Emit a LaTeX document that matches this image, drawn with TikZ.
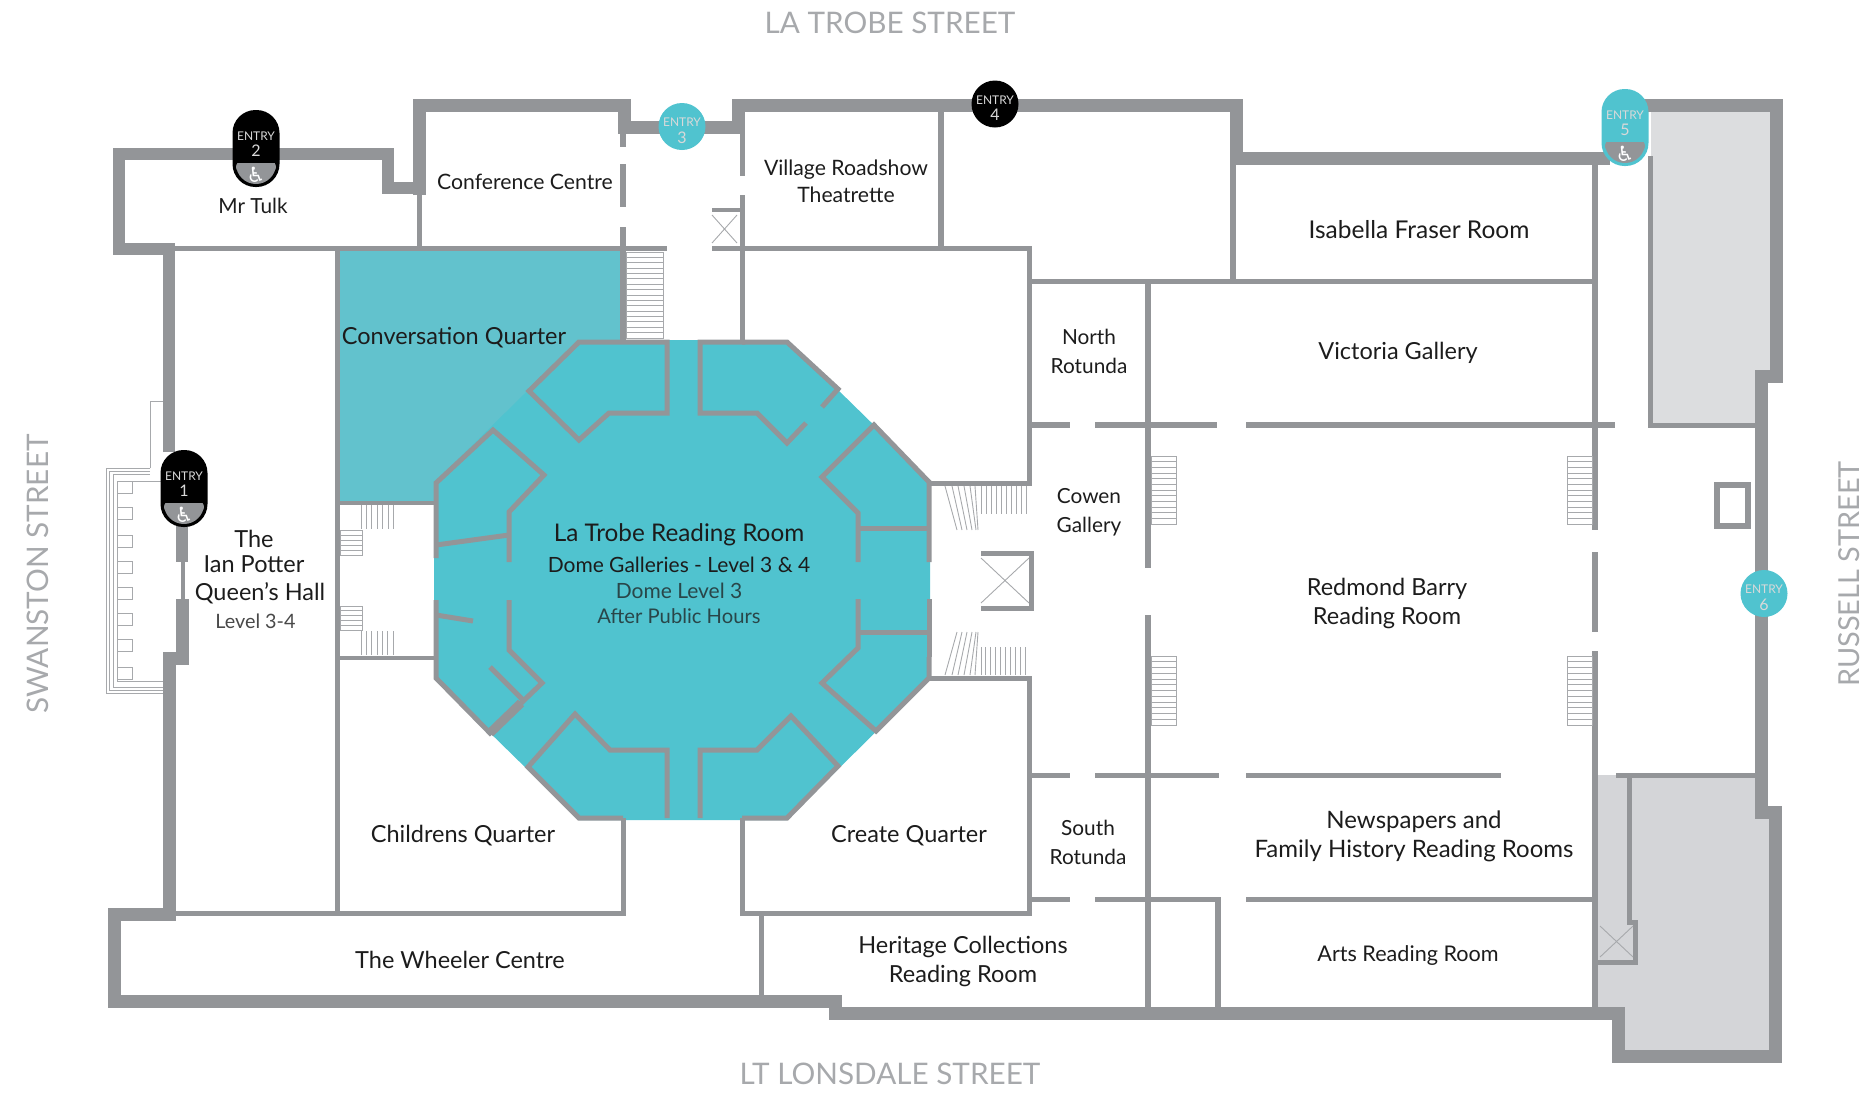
\documentclass[tikz,border=0pt]{standalone}
\usepackage{fontspec}
\setmainfont{Lato}
\newfontfamily\symfont{DejaVu Sans}
\definecolor{wallgrey}{HTML}{939598}
\definecolor{stairgrey}{HTML}{A7A9AC}
\definecolor{paleback}{HTML}{DCDDDF}
\definecolor{palefront}{HTML}{D4D5D8}
\definecolor{domeblue}{HTML}{50C3CF}
\definecolor{quarterblue}{HTML}{62C2CD}
\definecolor{labelblack}{HTML}{1C1C1C}
\definecolor{streetgrey}{HTML}{A7A9AC}
\tikzset{
  wall/.style={draw=wallgrey, line width=#1, miter limit=10},
  wall/.default=6,
  thinline/.style={draw=stairgrey, line width=0.9},
  roomlabel/.style={font=\fontsize{20.8}{29}\selectfont, text=labelblack, inner sep=0, align=center},
  bigroom/.style={roomlabel, font=\fontsize{23.5}{29}\selectfont},
  streetlabel/.style={font=\fontsize{29.7}{34}\selectfont, text=streetgrey, inner sep=0},
  entryword/.style={font=\fontsize{12}{13}\selectfont, inner sep=0},
  entrynum/.style={font=\fontsize{16}{17}\selectfont, inner sep=0},
}
% stairs with treads across: x1, y1, x2, y2, number of treads
\newcommand{\treadsh}[5]{
  \draw[thinline] (#1,#2) rectangle (#3,#4);
  \foreach \k in {1,...,#5} \draw[thinline] (#1,{#2+(#4-#2)*\k/(#5+1)}) -- (#3,{#2+(#4-#2)*\k/(#5+1)});
}
\newcommand{\treadsv}[5]{
  \foreach \k in {0,...,#5} \draw[thinline] ({#1+(#3-#1)*\k/#5},#2) -- ({#1+(#3-#1)*\k/#5},#4);
}
% entry with a step free part: name, x, top, number, colour
\newcommand{\entrypill}[5]{
  \fill[#5, rounded corners=23] (#2-23.5,#3) rectangle (#2+23.5,#3+77);
  \begin{scope}
    \clip[rounded corners=20] (#2-20,#3+40) rectangle (#2+20,#3+74);
    \fill[wallgrey] (#2-20,#3+53) rectangle (#2+20,#3+74);
  \end{scope}
  \node[entryword, text=white!85!black] (#1word) at (#2,#3+26) {ENTRY};
  \node[entrynum, text=white!85!black] (#1num) at (#2,#3+41) {#4};
  \node[inner sep=0, text=white, font=\symfont\fontsize{21}{22}\selectfont] (#1chair) at (#2,#3+65) {\symbol{"267F}};
}
% entry without: name, x, y, number, colour
\newcommand{\entrydot}[5]{
  \fill[#5] (#2,#3) circle[radius=23.5];
  \node[entryword, text=white!85!black] (#1word) at (#2,#3-4) {ENTRY};
  \node[entrynum, text=white!85!black] (#1num) at (#2,#3+11) {#4};
}
\begin{document}
\begin{tikzpicture}[x=1pt,y=-1pt]
\useasboundingbox (0,0) rectangle (1868,1093);
% grey areas
\fill[paleback] (1651,110)--(1772,110)--(1772,372)--(1757,372)--(1757,425)--(1651,425)--cycle;
\fill[palefront] (1598,775)--(1757,775)--(1757,816)--(1771,816)--(1771,1052)--(1620,1052)--(1620,1008)--(1598,1008)--cycle;
% reading rooms
\fill[quarterblue] (337,251)--(623,251)--(623,342)--(579,342)--(434,483)--(434,503)--(337,503)--cycle;
\fill[domeblue] (579,340)--(787,340)--(930,480)--(930,678)--(787,820)--(579,820)--(434,678)--(434,483)--cycle;
% outer walls
\draw[wall=12] (169,452)--(169,248.5)--(118.5,248.5)--(118.5,153.5)--(388,153.5)--(388,187.5)--(419.5,187.5);
\draw[wall=13] (419.5,195)--(419.5,105)--(624,105)--(624,127.5)--(738,127.5)--(738,105)--(1236,105)--(1236,158.5)--(1610,158.5);
\draw[wall=13] (1640,105)--(1776.5,105)--(1776.5,376.5)--(1761.5,376.5)--(1761.5,812.5)--(1775.5,812.5)--(1775.5,1056)--(1618.5,1056)--(1618.5,1013)--(835,1013)--(835,1001)--(114.5,1001)--(114.5,914)--(169,914)--(169,658.5)--(182,658.5)--(182,599);
\draw[wall=12] (182,520)--(182,562);
\draw[wall=4] (183,562)--(183,599);
% left forecourt
\draw[thinline] (150,468)--(150,401)--(163,401);
\draw[thinline] (150,468)--(106,468)--(106,693)--(163,693);
\draw[thinline] (150,471)--(109.5,471)--(109.5,690)--(163,690);
\draw[thinline] (150,474)--(113,474)--(113,687)--(163,687);
\draw[thinline] (163,481)--(117,481)--(117,681)--(163,681);
\foreach \y in {481,507,535,561,587,613,639,667}
  \draw[thinline] (117.5,\y) rectangle (132,\y+12.5);
% inner walls
\draw[wall=5] (175,248.5)--(667,248.5);
\draw[wall=5] (712,248.5)--(1029,248.5)--(1029,483)--(930,483);
\draw[wall=5] (419,193)--(419,248);
\draw[wall=6] (623,133)--(623,147);
\draw[wall=6] (623,164)--(623,207);
\draw[wall=6] (623,227)--(623,342);
\draw[wall=5] (742,133)--(742,176);
\draw[wall=5] (742,195)--(742,342);
\draw[wall=6] (940.5,112)--(940.5,248);
\draw[wall=5.5] (1233,165)--(1233,281);
\draw[wall=5.5] (1029,281.5)--(1595,281.5);
\draw[wall=6] (1595,165)--(1595,530);
\draw[wall=6] (1595,552)--(1595,632);
\draw[wall=6] (1595,651)--(1595,1007);
\draw[wall=6] (1148,281)--(1148,568);
\draw[wall=6] (1148,615)--(1148,1007);
\draw[wall=5.5] (1031,425)--(1070,425);
\draw[wall=5.5] (1095,425)--(1217,425);
\draw[wall=5.5] (1246,425)--(1615,425);
\draw[wall=5.5] (1031,775.5)--(1070,775.5);
\draw[wall=5.5] (1095,775.5)--(1219,775.5);
\draw[wall=5.5] (1246,775.5)--(1501,775.5);
\draw[wall=5.5] (1031,899.5)--(1070,899.5);
\draw[wall=5.5] (1095,899.5)--(1218,899.5)--(1218,1007);
\draw[wall=5.5] (1246,899.5)--(1595,899.5);
\draw[wall=5] (1650,156)--(1650,425)--(1757,425);
\draw[wall=5] (1616,775.5)--(1757,775.5);
\draw[wall=5] (1629,775)--(1629,922)--(1635.5,922)--(1635.5,962)--(1598,962);
\draw[wall=6] (1717,485) rectangle (1748,526);
% lower block
\draw[wall=5] (337,251)--(337,913);
\draw[wall=5] (175,913)--(623,913)--(623,818);
\draw[wall=5] (742,818)--(742,913);
\draw[wall=5] (740,913)--(1029,913)--(1029,678)--(930,678);
\draw[wall=5] (761,913)--(761,996);
\draw[wall=4.5] (340,503)--(436,503);
\draw[wall=4.5] (340,658)--(436,658);
% dome pods
\draw[wall=5] (623,342)--(579,342)--(529,391)--(579,440)--(609,413)--(667,413)--(667,342)--(620,342);
\draw[wall=5] (742,342)--(787,342)--(838,389)--(822,407);
\draw[wall=5] (745,342)--(700,342)--(700,413)--(757,413)--(787,443)--(806,423);
\draw[wall=5] (858,562)--(858,513)--(822,477)--(874,425)--(929,482)--(929,562);
\draw[wall=5] (858,528)--(929,528);
\draw[wall=5] (858,599)--(858,648)--(822,683)--(876,731)--(929,678)--(929,657);
\draw[wall=5] (929,657)--(929,599);
\draw[wall=5] (858,632)--(929,632);
\draw[wall=5] (700,818)--(700,750)--(757,750)--(791,716)--(838,766)--(787,818)--(742,818);
\draw[wall=5] (667,818)--(667,750)--(610,750)--(575,714)--(528,767)--(579,818)--(623,818);
\draw[wall=5] (436,558)--(436,483)--(493,430)--(544,475)--(509,512)--(509,562);
\draw[wall=5] (436,545)--(509,535);
\draw[wall=5] (436,600)--(436,678)--(490,733)--(542,683)--(509,650)--(509,600);
\draw[wall=5] (436,615)--(473,621);
\draw[wall=5] (490,667)--(523,700);
\draw[wall=9] (490,733)--(521,703);
% stairs
\treadsh{626}{252}{663}{338}{15}
\treadsv{361}{505}{393.5}{529}{6}
\treadsh{340}{530}{362}{555}{4}
\treadsh{340}{606}{362}{630}{4}
\treadsv{361}{631}{393}{655}{6}
\treadsv{981}{486}{1026}{514}{9}
\treadsv{981}{647}{1025}{675}{9}
\foreach \a/\b in {945/957,952/962,958/967,964/972,970/976,975/978}
  \draw[thinline] (\a,486)--(\b,530);
\foreach \a/\b in {957/945,962/952,967/958,972/964,976/970,978/975}
  \draw[thinline] (\a,632)--(\b,675);
\treadsh{1151.5}{456}{1176}{524}{11}
\treadsh{1567}{456}{1592}{524}{11}
\treadsh{1151.5}{656}{1176}{725}{11}
\treadsh{1567}{656}{1592}{725}{11}
% lifts
\draw[thinline] (712,215)--(737,243) (712,243)--(737,215);
\draw[wall=4.5] (712,210)--(740,210);
\draw[wall=4.5] (712,248.5)--(740,248.5);
\draw[thinline] (981,558)--(1029,603) (981,603)--(1029,558);
\draw[wall=5] (981,553)--(1031.5,553)--(1031.5,608.5)--(981,608.5);
\draw[thinline] (1600,926)--(1633,957) (1600,957)--(1633,926);
% streets
\node[streetlabel] (latrobe) at (890,23) {LA TROBE STREET};
\node[streetlabel] (lonsdale) at (890,1074) {LT LONSDALE STREET};
\node[streetlabel, rotate=90] (swanston) at (38,574) {SWANSTON STREET};
\node[streetlabel, rotate=90, font=\fontsize{28.9}{34}\selectfont] (russell) at (1849,574) {RUSSELL STREET};
% rooms
\node[roomlabel] (tulk) at (253,206) {Mr Tulk};
\node[roomlabel, font=\fontsize{21.2}{29}\selectfont] (conference) at (525,182) {Conference Centre};
\node[roomlabel, font=\fontsize{21.2}{27}\selectfont] (village) at (846,181.5) {Village Roadshow\\Theatrette};
\node[bigroom, font=\fontsize{24.5}{29}\selectfont] (isabella) at (1419,230) {Isabella Fraser Room};
\node[bigroom] (victoria) at (1398,353) {Victoria Gallery};
\node[roomlabel] (north) at (1089,351.5) {North\\Rotunda};
\node[roomlabel] (cowen) at (1089,512.5) {Cowen\\Gallery};
\node[bigroom] (redmond) at (1387,603.5) {Redmond Barry\\Reading Room};
\node[bigroom, font=\fontsize{24}{29}\selectfont] (newspapers) at (1414,836.5) {Newspapers and\\Family History Reading Rooms};
\node[roomlabel] (south) at (1088,842.5) {South\\Rotunda};
\node[roomlabel, font=\fontsize{21.6}{29}\selectfont] (arts) at (1408,956) {Arts Reading Room};
\node[bigroom] (heritage) at (963,961.5) {Heritage Collections\\Reading Room};
\node[bigroom] (create) at (909,836) {Create Quarter};
\node[bigroom] (childrens) at (463,836) {Childrens Quarter};
\node[bigroom] (wheeler) at (460,960) {The Wheeler Centre};
\node[bigroom] (conversation) at (454,338) {Conversation Quarter};
\node[bigroom, font=\fontsize{24.3}{29}\selectfont] (dometitle) at (679,535) {La Trobe Reading Room};
\node[roomlabel, font=\fontsize{21}{24}\selectfont] (domegall) at (679,565) {Dome Galleries - Level 3 \& 4};
\node[roomlabel, font=\fontsize{21}{24}\selectfont, text=labelblack!75!domeblue] (domelevel) at (679,591) {Dome Level 3};
\node[roomlabel, font=\fontsize{20.2}{24}\selectfont, text=labelblack!75!domeblue] (domehours) at (679,616) {After Public Hours};
\node[bigroom] (hallthe) at (254,539) {The};
\node[bigroom] (hallian) at (254,564) {Ian Potter};
\node[bigroom] (hallqueen) at (260,593) {Queen’s Hall};
\node[roomlabel, font=\fontsize{19.8}{24}\selectfont, text=labelblack!80] (halllevel) at (255.5,621) {Level 3-4};
% entries
\entrypill{entryone}{184}{450}{1}{black}
\entrypill{entrytwo}{256}{110}{2}{black}
\entrydot{entrythree}{682}{126.5}{3}{domeblue}
\entrydot{entryfour}{995}{104}{4}{black}
\entrypill{entryfive}{1625}{89}{5}{domeblue}
\entrydot{entrysix}{1764}{593.5}{6}{domeblue}
\end{tikzpicture}
\end{document}
